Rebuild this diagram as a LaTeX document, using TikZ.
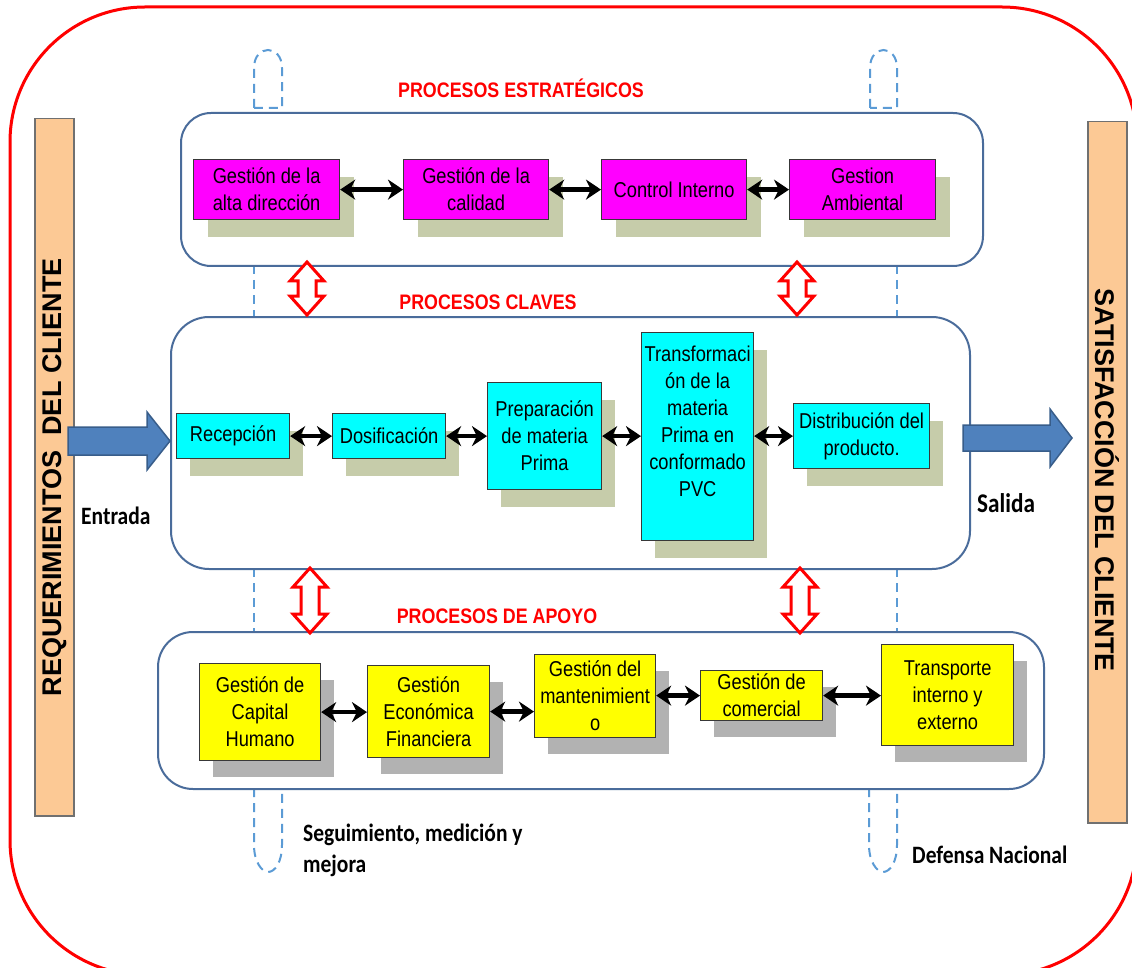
\documentclass[tikz,border=0pt]{standalone}
\usepackage{fontspec}
\setmainfont{Liberation Sans}
\newfontfamily\boxfont{Liberation Sans}[FakeStretch=0.85]
\newfontfamily\labfont{Carlito}[FakeStretch=0.86]
\usetikzlibrary{arrows.meta,shadows}

\definecolor{outerred}{HTML}{FF0000}
\definecolor{contblue}{HTML}{4A6C9B}
\definecolor{dashblue}{HTML}{5B9BD5}
\definecolor{boxedge}{HTML}{383838}
\definecolor{stratfill}{HTML}{FF00FF}
\definecolor{keyfill}{HTML}{00FFFF}
\definecolor{supfill}{HTML}{FFFF00}
\definecolor{olivesh}{HTML}{C6CCAA}
\definecolor{graysh}{HTML}{B2B2B2}
\definecolor{barfill}{HTML}{FCC995}
\definecolor{baredge}{HTML}{707070}
\definecolor{arrfill}{HTML}{4F81BD}
\definecolor{arredge}{HTML}{385D8A}

\tikzset{
  container/.style={draw=contblue, line width=2pt, fill=white, anchor=north west, inner sep=0pt},
  procbox/.style={draw=boxedge, line width=1.2pt, inner sep=0pt, anchor=north west,
    align=center, font=\boxfont\fontsize{21.5}{27}\selectfont},
  boxtext/.style={align=center, inner sep=0pt, font=\boxfont\fontsize{21.5}{27}\selectfont},
  stratbox/.style={procbox, fill=stratfill,
    general shadow={fill=olivesh, shadow xshift=14pt, shadow yshift=-17pt}},
  keybox/.style={procbox, fill=keyfill,
    general shadow={fill=olivesh, shadow xshift=13pt, shadow yshift=-17pt}},
  supbox/.style={procbox, fill=supfill,
    general shadow={fill=graysh, shadow xshift=13pt, shadow yshift=-16pt}},
  dbl/.style={{Stealth[length=15pt,width=20pt]}-{Stealth[length=15pt,width=20pt]}, line width=4.5pt, black},
  dashline/.style={draw=dashblue, line width=2pt, dash pattern=on 9pt off 6pt},
  redarr/.style={draw=outerred, line width=3pt, fill=white, line join=miter},
  blockarr/.style={fill=arrfill, draw=arredge, line width=1.5pt},
  sidebar/.style={fill=barfill, draw=baredge, line width=1.5pt, anchor=north west, inner sep=0pt},
  bartext/.style={font=\bfseries\fontsize{27}{32}\selectfont, inner sep=0pt},
  title/.style={text=outerred, font=\boxfont\bfseries\fontsize{21}{25}\selectfont, inner sep=0pt},
  note/.style={font=\labfont\bfseries\fontsize{25}{31}\selectfont, inner sep=0pt, anchor=west, align=left}
}

% vertical hollow double arrow: x, top tip, bottom tip
\newcommand\vdarrow[3]{%
  \draw[redarr] (#1,#2) -- (#1+17,#2+19) -- (#1+9,#2+19) -- (#1+9,#3-19)
    -- (#1+17,#3-19) -- (#1,#3) -- (#1-17,#3-19) -- (#1-9,#3-19)
    -- (#1-9,#2+19) -- (#1-17,#2+19) -- cycle;}

\begin{document}
\begin{tikzpicture}[x=1pt,y=-1pt]
\useasboundingbox (0,0) rectangle (1132,968);

% outer frame
\begin{scope}
  \clip (0,0) rectangle (1132,968);
  \draw[outerred, line width=3pt, rounded corners=135pt] (10,7) rectangle (1137,975);
\end{scope}

% side bars
\node[sidebar, minimum width=39pt, minimum height=697pt] (req) at (34,118) {};
\node[bartext, rotate=90] at ([yshift=-10pt]req.center) {REQUERIMIENTOS\ \ DEL CLIENTE};
\node[sidebar, minimum width=39pt, minimum height=701pt] (sat) at (1087,121) {};
\node[bartext, rotate=-90] at ([yshift=-8pt]sat.center) {SATISFACCIÓN DEL CLIENTE};

% monitoring loops
\draw[dashline] (254,108) -- (254,68) .. controls (254,56) and (261,50) .. (268,50)
  .. controls (275,50) and (282,56) .. (282,68) -- (282,108) -- cycle;
\draw[dashline] (870,108) -- (870,68) .. controls (870,56) and (877,50) .. (883.5,50)
  .. controls (890,50) and (897,56) .. (897,68) -- (897,108) -- cycle;
\draw[dashline] (254,788) -- (254,845) .. controls (254,862) and (262,872) .. (268,872)
  .. controls (275,872) and (282,862) .. (282,845) -- (282,788) -- cycle;
\draw[dashline] (869,788) -- (869,845) .. controls (869,862) and (877,872) .. (883,872)
  .. controls (890,872) and (897,862) .. (897,845) -- (897,788) -- cycle;
\draw[dashline] (254,265) -- (254,316);
\draw[dashline] (254,568) -- (254,631);
\draw[dashline] (897,265) -- (897,316);
\draw[dashline] (897,568) -- (897,631);

% process groups
\node[container, rounded corners=30pt, minimum width=802pt, minimum height=153pt] (strat) at (180,112) {};
\node[container, rounded corners=38pt, minimum width=799pt, minimum height=252pt] (key) at (170,316) {};
\node[container, rounded corners=35pt, minimum width=886pt, minimum height=157pt] (sup) at (157,631) {};

\node[title] at (521,88) {PROCESOS ESTRATÉGICOS};
\node[title] at (488,302) {PROCESOS CLAVES};
\node[title] at (497,616) {PROCESOS DE APOYO};

% links between groups
\vdarrow{307}{262}{315}
\vdarrow{797}{262}{315}
\vdarrow{310}{568}{633}
\vdarrow{800}{568}{633}

% strategic processes
\node[stratbox, minimum width=146pt, minimum height=60pt] (s1) at (193,159) {Gestión de la\\alta dirección};
\node[stratbox, minimum width=145pt, minimum height=60pt] (s2) at (403,159) {Gestión de la\\calidad};
\node[stratbox, minimum width=145pt, minimum height=60pt] (s3) at (601,159) {Control Interno};
\node[stratbox, minimum width=146pt, minimum height=60pt] (s4) at (789,159) {Gestion\\Ambiental};
\draw[dbl] (s1.east) -- (s2.west);
\draw[dbl] (s2.east) -- (s3.west);
\draw[dbl] (s3.east) -- (s4.west);

% key processes
\node[keybox, minimum width=113pt, minimum height=45pt] (k1) at (176,413) {Recepción};
\node[keybox, minimum width=113pt, minimum height=45pt] (k2) at (332,413) {Dosificación};
\node[keybox, minimum width=114pt, minimum height=107pt] (k3) at (487,382) {Preparación\\de materia\\Prima};
\node[keybox, minimum width=112pt, minimum height=208pt] (k4) at (641,332) {};
\node[boxtext] at ([yshift=15pt]k4.center) {Transformaci\\ón de la\\materia\\Prima en\\conformado\\PVC};
\node[keybox, minimum width=136pt, minimum height=65pt] (k5) at (793,403) {Distribución del\\producto.};
\draw[dbl] (k1.east) -- (k2.west);
\draw[dbl] (k2.east) -- (k2.east -| k3.west);
\draw[dbl] (k3.east) -- (k3.east -| k4.west);
\draw[dbl] (k5.west -| k4.east) -- (k5.west);

% support processes
\node[supbox, minimum width=121pt, minimum height=97pt] (a1) at (199,663) {Gestión de\\Capital\\Humano};
\node[supbox, minimum width=122pt, minimum height=92pt] (a2) at (367,665) {Gestión\\Económica\\Financiera};
\node[supbox, minimum width=121pt, minimum height=83pt] (a3) at (534,654) {Gestión del\\mantenimient\\o};
\node[supbox, minimum width=122pt, minimum height=50pt] (a4) at (700,670) {Gestión de\\comercial};
\node[supbox, minimum width=132pt, minimum height=101pt] (a5) at (881,644) {Transporte\\interno y\\externo};
\draw[dbl] (a1.east) -- (a1.east -| a2.west);
\draw[dbl] (a2.east) -- (a2.east -| a3.west);
\draw[dbl] (a4.west -| a3.east) -- (a4.west);
\draw[dbl] (a4.east) -- (a4.east -| a5.west);

% input and output
\coordinate (inA) at (68,441);
\coordinate (outA) at (963,438);
\draw[blockarr] (inA) -- ++(0,-14) -- ++(79,0) -- ++(0,-15) -- ++(23,29) -- ++(-23,29)
  -- ++(0,-15) -- ++(-79,0) -- cycle;
\draw[blockarr] (outA) -- ++(0,-13) -- ++(87,0) -- ++(0,-16) -- ++(22,29) -- ++(-22,29)
  -- ++(0,-16) -- ++(-87,0) -- cycle;

\node[note] at (81,516) {Entrada};
\node[note, font=\labfont\bfseries\fontsize{27}{31}\selectfont] at (977,503) {Salida};
\node[note] at (303,850) {Seguimiento, medición y\\mejora};
\node[note] at (912,855) {Defensa Nacional};
\end{tikzpicture}
\end{document}
